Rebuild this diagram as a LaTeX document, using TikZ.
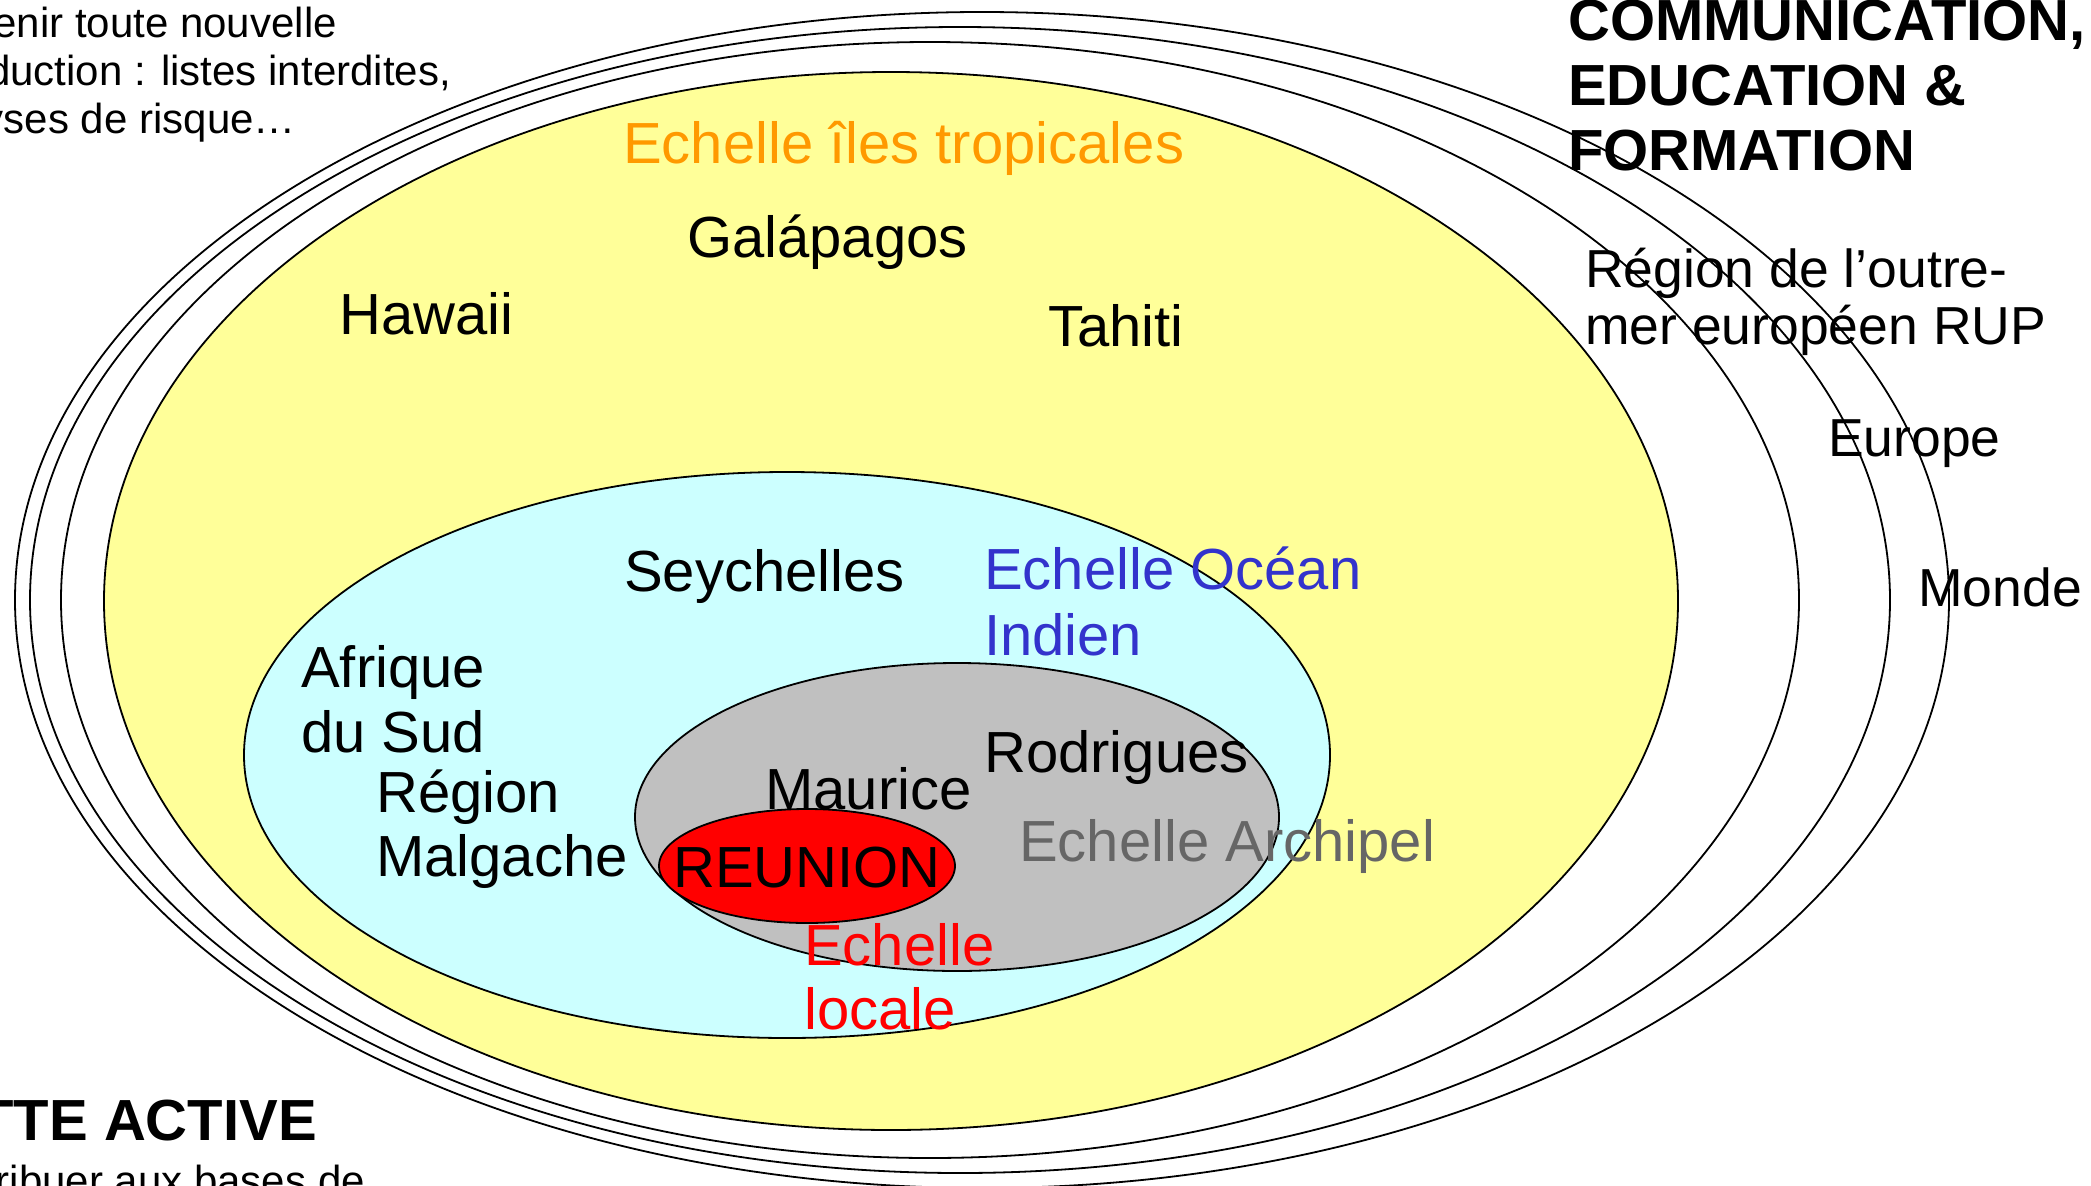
\documentclass[tikz,border=0pt]{standalone}
\usepackage{fontspec}
\setmainfont{Liberation Sans}
\usetikzlibrary{shapes.geometric}
\definecolor{ilesyellow}{HTML}{FFFF99}
\definecolor{oceancyan}{HTML}{CCFFFF}
\definecolor{archgray}{HTML}{C0C0C0}
\definecolor{localred}{HTML}{FF0000}
\definecolor{tropiorange}{HTML}{FF9900}
\definecolor{oceanblue}{HTML}{3333CC}
\definecolor{archtext}{HTML}{666666}
\tikzset{
  ring/.style={draw=black, line width=1.8pt},
  big/.style={inner sep=0pt, anchor=base west, font=\fontsize{58}{66}\selectfont},
  mid/.style={inner sep=0pt, anchor=base west, font=\fontsize{53.5}{61}\selectfont},
  bigbold/.style={inner sep=0pt, anchor=base west, font=\fontsize{58}{66}\selectfont\bfseries},
  small/.style={inner sep=0pt, anchor=base east, font=\fontsize{42}{48}\selectfont},
}
\begin{document}
\begin{tikzpicture}[x=1pt,y=-1pt]
\useasboundingbox (0,0) rectangle (2091,1186);
\clip (0,0) rectangle (2091,1186);
\fill[white] (0,0) rectangle (2091,1186);
% nested scale ellipses
\path[ring, fill=white] (982,600) ellipse [x radius=967, y radius=588];
\path[ring, fill=white] (960,600) ellipse [x radius=930, y radius=573];
\path[ring, fill=white] (930,600) ellipse [x radius=869, y radius=558];
\path[ring, fill=ilesyellow] (891,601) ellipse [x radius=787, y radius=529];
\path[ring, fill=oceancyan] (787,755) ellipse [x radius=543, y radius=283];
\path[ring, fill=archgray] (957,817) ellipse [x radius=322, y radius=154];
\node[big] (maurice) at (765,809) {Maurice};
\path[ring, fill=localred] (807,866) ellipse [x radius=148, y radius=57];
% labels
\node[small] (t1) at (337,37) {enir toute nouvelle};
\node[small] (t2) at (451,85) {duction : listes interdites,};
\node[small] (t3) at (296,133) {yses de risque…};
\node[bigbold] (c1) at (1568,40) {COMMUNICATION,};
\node[bigbold] (c2) at (1568,105) {EDUCATION \&};
\node[bigbold] (c3) at (1568,170) {FORMATION};
\node[bigbold, anchor=base east] (la) at (317,1140) {TTE ACTIVE};
\node[small] (lb) at (365,1195) {ribuer aux bases de};
\node[big, text=tropiorange] (tropi) at (623,163) {Echelle îles tropicales};
\node[big] (gala) at (687,257) {Galápagos};
\node[big] (hawaii) at (339,334) {Hawaii};
\node[big] (tahiti) at (1048,346) {Tahiti};
\node[mid] (rup1) at (1585,287) {Région de l’outre-};
\node[mid] (rup2) at (1585,344) {mer européen RUP};
\node[mid] (europe) at (1828,456) {Europe};
\node[mid] (monde) at (1918,606) {Monde};
\node[big] (seych) at (624,591) {Seychelles};
\node[big, text=oceanblue] (oi1) at (984,589) {Echelle Océan};
\node[big, text=oceanblue] (oi2) at (984,655) {Indien};
\node[big] (af1) at (301,687) {Afrique};
\node[big] (af2) at (301,752) {du Sud};
\node[big] (rm1) at (376,812) {Région};
\node[big] (rm2) at (376,876) {Malgache};
\node[big] (rodri) at (984,772) {Rodrigues};
\node[big, text=archtext] (arch) at (1019,861) {Echelle Archipel};
\node[big] (reunion) at (673,887) {REUNION};
\node[big, text=localred] (loc1) at (804,965) {Echelle};
\node[big, text=localred] (loc2) at (804,1029) {locale};
\end{tikzpicture}
\end{document}
